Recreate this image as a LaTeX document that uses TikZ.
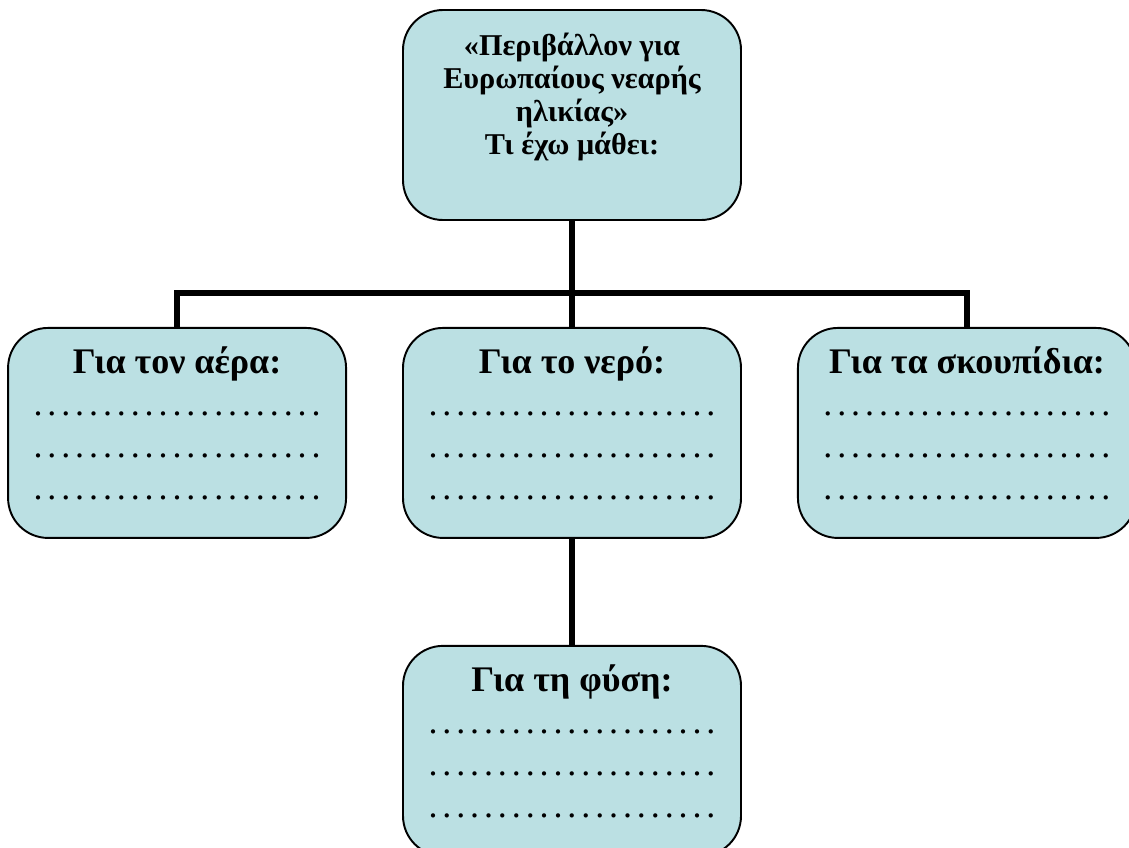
\documentclass[tikz,border=0pt]{standalone}
\usepackage{fontspec}
\setmainfont{Liberation Serif}
\usetikzlibrary{positioning, calc}

\definecolor{boxblue}{RGB}{187,224,227}
\newcommand{\dotrow}{\hbox to 5.85cm{\mdseries\xleaders\hbox to 0.266cm{\hss.\hss}\hfill}}

\begin{document}
\begin{tikzpicture}[node distance=2.12cm and 1.1cm,
	topic/.style={draw, line width=1.1pt, fill=boxblue, rounded corners=0.8cm,
		minimum width=6.76cm, minimum height=4.2cm, align=center,
		font=\fontsize{20.5}{24}\selectfont\bfseries, text depth=0.4cm},
	link/.style={line width=3.4pt, line join=miter}]
	\useasboundingbox (0,0) rectangle (22.58,-16.94);

	\node[topic, font=\fontsize{17.2}{18.8}\selectfont\bfseries, text depth=0.85cm]
							(title) at (11.44,-2.3)	{«Περιβάλλον για\\ Ευρωπαίους νεαρής\\ ηλικίας»\\ Τι έχω μάθει:};
	\node[topic]			(water) [below	=of title]	{Για το νερό:\\ \dotrow\\ \dotrow\\ \dotrow};
	\node[topic]			(air)	[left	=of water]	{Για τον αέρα:\\ \dotrow\\ \dotrow\\ \dotrow};
	\node[topic]			(waste) [right	=of water]	{Για τα σκουπίδια:\\ \dotrow\\ \dotrow\\ \dotrow};
	\node[topic]			(nature)[below	=of water]	{Για τη φύση:\\ \dotrow\\ \dotrow\\ \dotrow};

	\coordinate (hub) at ($(title.south)!0.68!(water.north)$);

	\draw[link] (title.south) -- (water.north);
	\draw[link] (air.north) -- (air.north |- hub) -- (waste.north |- hub) -- (waste.north);
	\draw[link] (water.south) -- (nature.north);
\end{tikzpicture}
\end{document}
